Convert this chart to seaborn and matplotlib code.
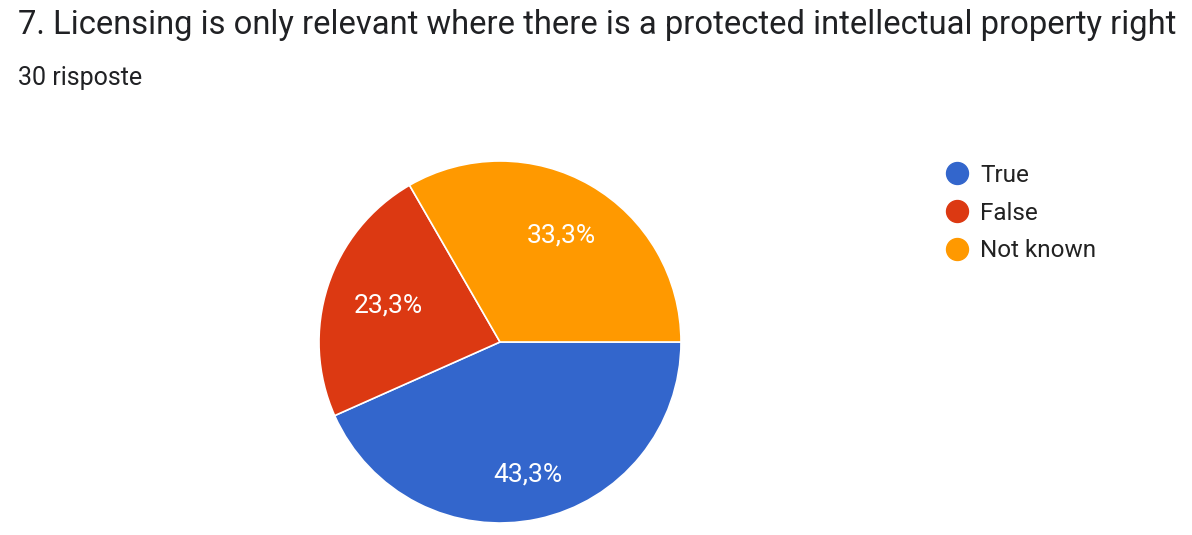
import numpy as np
import matplotlib
matplotlib.use("Agg")
import matplotlib.pyplot as plt
from matplotlib.lines import Line2D
import seaborn as sns

# Survey answers
categories = ["True", "False", "Not known"]
counts = [13, 7, 10]
pct_labels = ["43,3%", "23,3%", "33,3%"]
colors = ["#3366CC", "#DC3912", "#FF9900"]

title = "7. Licensing is only relevant where there is a protected intellectual property right"
subtitle = "30 risposte"

sns.set_theme(style="white")
plt.rcParams["font.family"] = ["Roboto", "DejaVu Sans"]
palette = sns.color_palette(colors)

W, H = 1192, 535
fig = plt.figure(figsize=(W / 100, H / 100), dpi=100)
fig.patch.set_facecolor("white")

# Pie axes: square area centred on the chart
cx, cy, r = 500, 342, 181
ax = fig.add_axes([(cx - r) / W, (H - cy - r) / H, 2 * r / W, 2 * r / H])
wedges, _ = ax.pie(
    counts,
    colors=palette,
    startangle=0,
    counterclock=False,
    radius=1,
    wedgeprops=dict(edgecolor="white", linewidth=1.2),
)
ax.set_xlim(-1, 1)
ax.set_ylim(-1, 1)
ax.set_aspect("equal")
ax.axis("off")

# Percentage labels inside the slices
label_radius = [0.75, 0.65, 0.68]
for w, lab, rf in zip(wedges, pct_labels, label_radius):
    ang = np.deg2rad((w.theta1 + w.theta2) / 2)
    ax.text(rf * np.cos(ang), rf * np.sin(ang), lab, color="white",
            fontsize=19, ha="center", va="center")

fig.text(18 / W, 1 - 25 / H, title, fontsize=23.6, color="#202124",
         ha="left", va="center")
fig.text(18 / W, 1 - 78 / H, subtitle, fontsize=18, color="#202124",
         ha="left", va="center")

handles = [Line2D([0], [0], marker="o", linestyle="", markersize=15.8,
                  markerfacecolor=c, markeredgecolor=c) for c in palette]
fig.legend(handles, categories, loc="upper left",
           bbox_to_anchor=(945 / W, 1 - 164 / H), frameon=False,
           fontsize=17.5, labelspacing=0.6, handletextpad=0.45,
           handlelength=1.0, borderaxespad=0, borderpad=0,
           labelcolor="#222222")

fig.savefig("out.png", dpi=100, facecolor="white")
